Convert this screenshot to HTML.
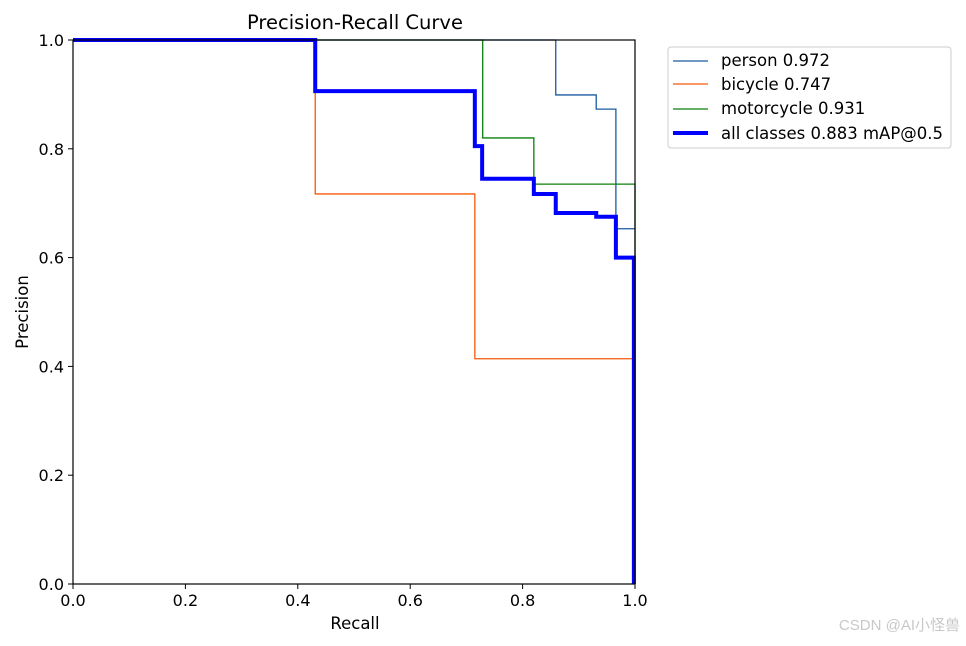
<!DOCTYPE html>
<html><head><meta charset="utf-8">
<style>
html,body{margin:0;padding:0;background:#fff;}
svg text{font-family:"DejaVu Sans","Liberation Sans",sans-serif;fill:#000;}
</style></head>
<body>
<svg id="chart" width="966" height="641" xmlns="http://www.w3.org/2000/svg">
<text x="355" y="29" font-size="19.5" text-anchor="middle">Precision-Recall Curve</text>
<g id="series"></g>
<rect x="73" y="40" width="562" height="544" fill="none" stroke="#000" stroke-width="1.2"/>
<g id="ticks"></g>
<text x="355" y="629" font-size="16.5" text-anchor="middle">Recall</text>
<text x="28" y="312" font-size="16.5" text-anchor="middle" transform="rotate(-90 28 312)">Precision</text>
<g>
<rect x="668" y="47" width="283" height="101" rx="3" fill="#fff" stroke="#ccc"/>
<line x1="673" y1="61" x2="708" y2="61" stroke="#1a5aa0" stroke-width="1.3"/>
<text x="721" y="66" font-size="16.5">person 0.972</text>
<line x1="673" y1="84" x2="708" y2="84" stroke="#f55a0a" stroke-width="1.3"/>
<text x="721" y="90" font-size="16.5">bicycle 0.747</text>
<line x1="673" y1="109" x2="708" y2="109" stroke="#0a800a" stroke-width="1.3"/>
<text x="721" y="114" font-size="16.5">motorcycle 0.931</text>
<line x1="673" y1="133" x2="708" y2="133" stroke="#0000ff" stroke-width="4"/>
<text x="721" y="139" font-size="16.5">all classes 0.883 mAP@0.5</text>
</g>
<text x="960" y="630" font-size="15" text-anchor="end" style="fill:#c8c8c8;font-family:'Liberation Sans','Noto Sans CJK SC',sans-serif">CSDN @AI小怪兽</text>
</svg>
<script>
const tickValues=[0,0.2,0.4,0.6,0.8,1.0];
const personRecall=[0,0.859,0.859,0.931,0.931,0.966,0.966,1.0];
const personPrecision=[1,1,0.899,0.899,0.873,0.873,0.653,0.653];
const bicycleRecall=[0,0.431,0.431,0.715,0.715,1.0];
const bicyclePrecision=[1,1,0.717,0.717,0.414,0.414];
const motoRecall=[0,0.729,0.729,0.820,0.820,1.0,1.0];
const motoPrecision=[1,1,0.820,0.820,0.735,0.735,0.6];
const allRecall=[0,0.431,0.431,0.715,0.715,0.728,0.728,0.820,0.820,0.859,0.859,0.931,0.931,0.966,0.966,0.998,0.998];
const allPrecision=[1,1,0.906,0.906,0.805,0.805,0.745,0.745,0.717,0.717,0.682,0.682,0.675,0.675,0.6,0.6,0];
const X0=73,X1=635,Y0=584,Y1=40;
const sx=v=>X0+v*(X1-X0), sy=v=>Y0-v*(Y0-Y1);
const NS='http://www.w3.org/2000/svg';
const sg=document.getElementById('series');
function draw(xs,ys,color,w,name){
  const p=document.createElementNS(NS,'polyline');
  p.setAttribute('points',xs.map((x,i)=>sx(x)+','+sy(ys[i])).join(' '));
  p.setAttribute('fill','none');p.setAttribute('stroke',color);p.setAttribute('stroke-width',w);
  
  
  sg.appendChild(p);
}
draw(personRecall,personPrecision,'#1a5aa0',1.3,'person-curve');
draw(bicycleRecall,bicyclePrecision,'#f55a0a',1.3,'bicycle-curve');
draw(motoRecall,motoPrecision,'#0a800a',1.3,'motorcycle-curve');
draw(allRecall,allPrecision,'#0000ff',4,'all-classes-curve');
const tg=document.getElementById('ticks');
tickValues.forEach(v=>{
  const lx=document.createElementNS(NS,'line');
  lx.setAttribute('x1',sx(v));lx.setAttribute('x2',sx(v));lx.setAttribute('y1',Y0);lx.setAttribute('y2',Y0+5);lx.setAttribute('stroke','#000');
  
  
  tg.appendChild(lx);
  const tx=document.createElementNS(NS,'text');
  tx.setAttribute('x',sx(v));tx.setAttribute('y',Y0+22);tx.setAttribute('font-size','16');tx.setAttribute('text-anchor','middle');
  tx.textContent=v.toFixed(1);
  
  
  tg.appendChild(tx);
  const ly=document.createElementNS(NS,'line');
  ly.setAttribute('x1',X0-5);ly.setAttribute('x2',X0);ly.setAttribute('y1',sy(v));ly.setAttribute('y2',sy(v));ly.setAttribute('stroke','#000');
  
  
  tg.appendChild(ly);
  const ty=document.createElementNS(NS,'text');
  ty.setAttribute('x',X0-9);ty.setAttribute('y',sy(v)+6);ty.setAttribute('font-size','16');ty.setAttribute('text-anchor','end');
  ty.textContent=v.toFixed(1);
  
  
  tg.appendChild(ty);
});
</script>
</body></html>
